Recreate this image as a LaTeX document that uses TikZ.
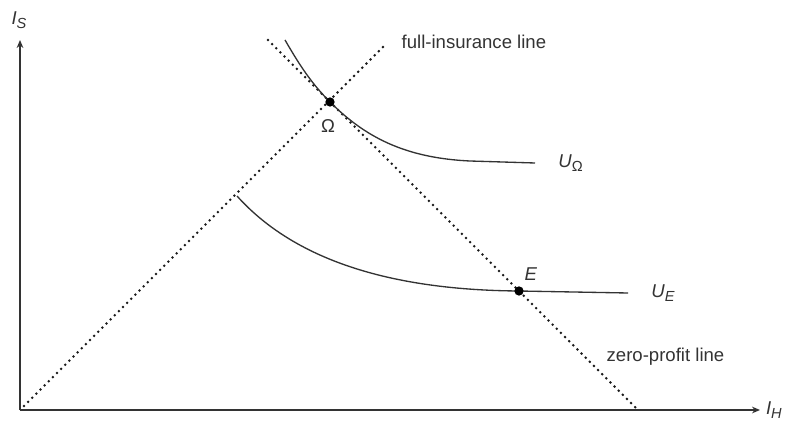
\documentclass[tikz,border=0pt]{standalone}
\usepackage{fontspec}
\setmainfont{Liberation Sans}
\usepackage{tikz}
\usetikzlibrary{arrows.meta, positioning}

\newcommand{\lowsub}[1]{\raisebox{-0.35ex}{\fontsize{11}{12}\selectfont #1}}

\begin{document}
\begin{tikzpicture}[
        x=0.0265cm, y=-0.0265cm,
        font=\fontsize{14}{16}\selectfont, text=black!80,
        axis/.style={-{Stealth[length=6pt,width=5pt]}, line width=1.3pt, black!80},
        locus/.style={line width=2.1pt, black!90, dash pattern=on 0pt off 4.4pt, line cap=round},
        indiff/.style={line width=1pt, black!80},
        point/.style={circle, fill=black, inner sep=0pt, minimum size=7pt}
    ]
        \useasboundingbox (0,0) rectangle (793,425);

        % Axes
        \coordinate (O) at (20,410);
        \coordinate (ytop) at (20,40);
        \coordinate (xend) at (760,410);
        \draw[axis] (O) -- (ytop);
        \draw[axis] (O) -- (xend);
        \node (IS) at (19,20) {\textit{I}\lowsub{\textit{S}}};
        \node[right=1pt of xend] (IH) {\textit{I}\lowsub{\textit{H}}};

        % Full-insurance and zero-profit lines
        \coordinate (fistart) at (24,406);
        \coordinate (fiend) at (387,43);
        \coordinate (zpstart) at (268,40);
        \coordinate (zpend) at (638,410);
        \draw[locus] (fistart) -- (fiend);
        \draw[locus] (zpstart) -- (zpend);
        \node[anchor=west] (filabel) at (397,42) {full-insurance line};
        \node[anchor=west] (zplabel) at (602,357) {zero-profit line};

        % Indifference curves
        \coordinate (Omega) at (330,102);
        \coordinate (E) at (519,291);
        \draw[indiff] (285,40) .. controls (300,66) and (312,84) .. (Omega)
            .. controls (365,137) and (405,158) .. (470,161) -- (535,163) coordinate (UOend);
        \draw[indiff] (237,196) .. controls (290,255) and (380,290) .. (E) -- (628,293) coordinate (UEend);
        \node[right=14pt of UOend] (UOlabel) {\textit{U}\lowsub{Ω}};
        \node[right=14pt of UEend] (UElabel) {\textit{U}\lowsub{\textit{E}}};

        % Points
        \node[point] at (Omega) {};
        \node[point] at (E) {};
        \node (Omegalabel) at (328,126) {Ω};
        \node (Elabel) at (531,274) {\textit{E}};
    \end{tikzpicture}
\end{document}
